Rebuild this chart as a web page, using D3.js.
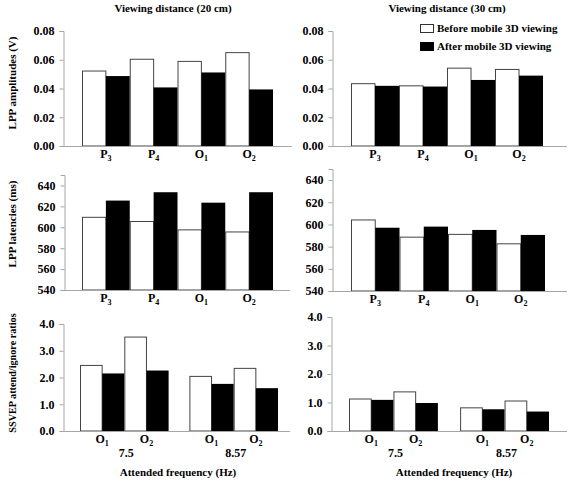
<!DOCTYPE html>
<html><head><meta charset="utf-8">
<script src="https://cdn.jsdelivr.net/npm/d3@7"></script>
<style>
html,body{margin:0;padding:0;background:#fff;}
svg text{font-family:"Liberation Serif","Times New Roman",serif;font-weight:bold;fill:#000;}
</style></head>
<body><svg id="chart" width="574" height="483"></svg>
<script>
// ---- data ----
const lppElectrodes = ["P3", "P4", "O1", "O2"];
const ampBefore20 = [0.0525, 0.0607, 0.0592, 0.0653];
const ampAfter20  = [0.0490, 0.0411, 0.0515, 0.0397];
const ampBefore30 = [0.0437, 0.0422, 0.0545, 0.0536];
const ampAfter30  = [0.0422, 0.0417, 0.0463, 0.0493];
const latBefore20 = [610, 606, 598, 596];
const latAfter20  = [626, 634, 624, 634];
const latBefore30 = [604.5, 589, 591.5, 583];
const latAfter30  = [597.5, 598.5, 595.5, 591];
const freqGroups = ["7.5", "8.57"];
const ssvepElectrodes = ["O1", "O2"];
const ssvepBefore20 = [2.47, 3.53, 2.06, 2.36];
const ssvepAfter20  = [2.17, 2.28, 1.78, 1.62];
const ssvepBefore30 = [1.14, 1.39, 0.83, 1.07];
const ssvepAfter30  = [1.11, 1.00, 0.78, 0.70];
const ampTicks = [0, 0.02, 0.04, 0.06, 0.08];
const latTicks = [540, 560, 580, 600, 620, 640];
const ssvepTicks = [0, 1, 2, 3, 4];
const seriesNames = ["Before mobile 3D viewing", "After mobile 3D viewing"];
const panelTitles = ["Viewing distance (20 cm)", "Viewing distance (30 cm)"];

// ---- layout ----
const svg = d3.select("#chart");
const AXIS = "#a6a6a6";

function subLabel(sel, label, size, subSize) {
  sel.text(null);
  sel.append("tspan").text(label[0]);
  sel.append("tspan").attr("font-size", subSize).attr("dy", 3).text(label.slice(1));
}

function panel(cfg) {
  const g = svg.append("g");
  const y = d3.scaleLinear().domain(cfg.domain).range([cfg.y0, cfg.yTop]);
  // x positions
  let cats, xPos, bw;
  if (cfg.groups) {
    const outer = d3.scaleBand().domain(cfg.groups).range([cfg.bx0, cfg.bx1]).paddingInner(cfg.gp);
    const inner = d3.scaleBand().domain(cfg.cats).range([0, outer.bandwidth()]);
    cats = [];
    cfg.groups.forEach(gr => cfg.cats.forEach(c => cats.push({g: gr, c: c, x: outer(gr) + inner(c), w: inner.bandwidth()})));
    // group labels
    g.selectAll("text.grp").data(cfg.groups).join("text")
      .attr("x", d => outer(d) + outer.bandwidth() / 2 + 2).attr("y", cfg.y0 + 26)
      .attr("text-anchor", "middle").attr("font-size", 12).text(d => d);
  } else {
    const xb = d3.scaleBand().domain(cfg.cats).range([cfg.bx0, cfg.bx1]);
    cats = cfg.cats.map(c => ({c: c, x: xb(c), w: xb.bandwidth()}));
  }
  const sub = d3.scaleBand().domain([0, 1]).range([0, 1]);
  // bars
  const bars = [];
  cats.forEach((k, i) => {
    bars.push({x: k.x + sub(0) * k.w, w: k.w / 2, v: cfg.before[i], s: 0});
    bars.push({x: k.x + sub(1) * k.w, w: k.w / 2, v: cfg.after[i], s: 1});
  });
  g.selectAll("rect.bar").data(bars).join("rect")
    .attr("x", d => d.x + (d.s === 0 ? 0.5 : 0)).attr("y", d => y(d.v) + 0.5)
    .attr("width", d => d.w - (d.s === 0 ? 0.5 : 0)).attr("height", d => y(cfg.domain[0]) - y(d.v) - 0.5)
    .attr("fill", d => d.s === 0 ? "#fff" : "#000")
    .attr("stroke", d => d.s === 0 ? "#444" : "none").attr("stroke-width", 1);
  // y axis
  const ya = d3.axisLeft(y).tickValues(cfg.ticks).tickFormat(d3.format(cfg.fmt)).tickSize(4).tickPadding(5);
  const yg = g.append("g").attr("transform", `translate(${cfg.ax0 + 0.5},0)`).call(ya);
  yg.select(".domain").attr("stroke", AXIS);
  yg.selectAll(".tick line").attr("stroke", AXIS);
  yg.selectAll(".tick text").attr("font-size", 12).attr("font-family", "Liberation Serif").attr("fill", "#000");
  // x axis line
  g.append("line").attr("x1", cfg.ax0).attr("x2", cfg.ax1)
    .attr("y1", cfg.y0 + 0.5).attr("y2", cfg.y0 + 0.5).attr("stroke", AXIS);
  // x labels
  g.selectAll("text.xl").data(cats).join("text")
    .attr("x", d => d.x + d.w / 2).attr("y", cfg.y0 + 12)
    .attr("text-anchor", "middle").attr("font-size", 12)
    .each(function(d) { subLabel(d3.select(this), d.c, 12, 8); });
  return g;
}

panel({cats: lppElectrodes, before: ampBefore20, after: ampAfter20, domain: [0, 0.08], ticks: ampTicks, fmt: ".2f",
  ax0: 63, ax1: 292, bx0: 82, bx1: 273, y0: 146, yTop: 31});
panel({cats: lppElectrodes, before: ampBefore30, after: ampAfter30, domain: [0, 0.08], ticks: ampTicks, fmt: ".2f",
  ax0: 332, ax1: 567, bx0: 351, bx1: 543, y0: 146, yTop: 31});
panel({cats: lppElectrodes, before: latBefore20, after: latAfter20, domain: [540, 650], ticks: latTicks, fmt: "d",
  ax0: 64, ax1: 290, bx0: 82, bx1: 273, y0: 290, yTop: 175});
panel({cats: lppElectrodes, before: latBefore30, after: latAfter30, domain: [540, 650], ticks: latTicks, fmt: "d",
  ax0: 332, ax1: 567, bx0: 351, bx1: 545, y0: 291, yTop: 169});
panel({cats: ssvepElectrodes, groups: freqGroups, gp: 0.19, before: ssvepBefore20, after: ssvepAfter20, domain: [0, 4], ticks: ssvepTicks, fmt: ".1f",
  ax0: 63, ax1: 290, bx0: 80, bx1: 278, y0: 431, yTop: 324});
panel({cats: ssvepElectrodes, groups: freqGroups, gp: 0.2, before: ssvepBefore30, after: ssvepAfter30, domain: [0, 4], ticks: ssvepTicks, fmt: ".1f",
  ax0: 331, ax1: 567, bx0: 349, bx1: 549, y0: 431, yTop: 317});

// titles
svg.append("text").attr("x", 173).attr("y", 12).attr("text-anchor", "middle").attr("font-size", 11).text(panelTitles[0]);
svg.append("text").attr("x", 447).attr("y", 12).attr("text-anchor", "middle").attr("font-size", 11).text(panelTitles[1]);
// y-axis titles
const yTitles = [["LPP amplitudes (V)", 83, 11], ["LPP latencies (ms)", 224, 11], ["SSVEP attend/ignore ratios", 373, 10.2]];
yTitles.forEach(t => svg.append("text").attr("transform", `translate(16,${t[1]}) rotate(-90)`)
  .attr("text-anchor", "middle").attr("font-size", t[2]).text(t[0]));
// x-axis titles
svg.append("text").attr("x", 178).attr("y", 476).attr("text-anchor", "middle").attr("font-size", 11).text("Attended frequency (Hz)");
svg.append("text").attr("x", 454).attr("y", 476).attr("text-anchor", "middle").attr("font-size", 11).text("Attended frequency (Hz)");
// legend
const lg = svg.append("g");
lg.selectAll("rect").data(seriesNames).join("rect")
  .attr("x", 420.5).attr("y", (d, i) => 24.5 + i * 18).attr("width", 13).attr("height", 8)
  .attr("fill", (d, i) => i === 0 ? "#fff" : "#000").attr("stroke", (d, i) => i === 0 ? "#333" : "#000");
lg.selectAll("text").data(seriesNames).join("text")
  .attr("x", 437).attr("y", (d, i) => 32 + i * 18).attr("font-size", 11).text(d => d);
</script></body></html>
